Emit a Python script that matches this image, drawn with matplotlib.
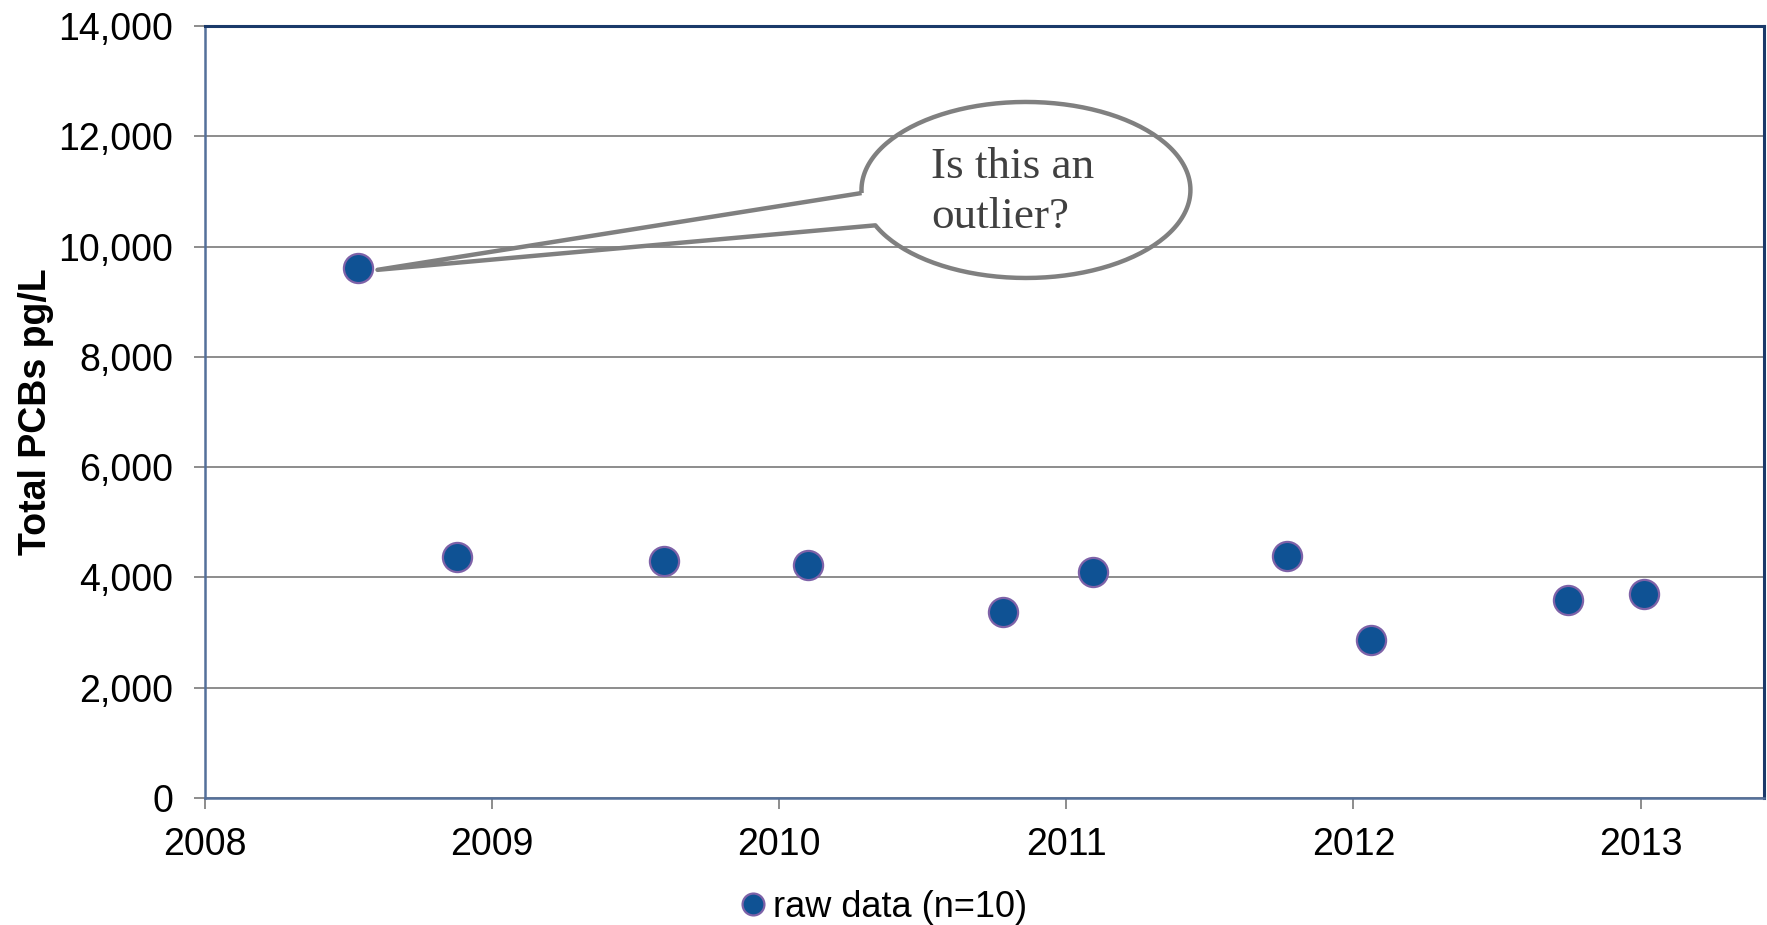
import matplotlib
matplotlib.use("Agg")
import matplotlib.pyplot as plt
import numpy as np
from matplotlib.path import Path
from matplotlib.patches import PathPatch
from matplotlib.ticker import FuncFormatter

# data: sampling date (decimal year) and total PCBs (pg/L)
dates = [2008.533, 2008.877, 2009.598, 2010.100, 2010.778,
         2011.092, 2011.767, 2012.062, 2012.746, 2013.011]
pcbs = [9620, 4370, 4300, 4225, 3370, 4090, 4395, 2865, 3590, 3700]
year_ticks = [2008, 2009, 2010, 2011, 2012, 2013]
y_ticks = [0, 2000, 4000, 6000, 8000, 10000, 12000, 14000]
series_label = "raw data (n=10)"
callout_text = "Is this an\noutlier?"

plt.rcParams["font.family"] = ["Liberation Sans", "DejaVu Sans"]

fig = plt.figure(figsize=(17.67, 9.25), dpi=100)
ax = fig.add_axes([0.116, 0.1373, 0.8823, 0.8346])

ax.plot(dates, pcbs, linestyle="none", marker="o", markersize=21,
        markerfacecolor="#0F5294", markeredgecolor="#7E62A8",
        markeredgewidth=1.6, label=series_label, zorder=3)

ax.set_xlim(2008, 2013.43)
ax.set_ylim(0, 14000)
ax.set_xticks(year_ticks)
ax.set_xticklabels([str(y) for y in year_ticks])
ax.set_yticks(y_ticks)
ax.yaxis.set_major_formatter(FuncFormatter(lambda v, p: f"{int(v):,}"))
ax.grid(axis="y", color="#8C8C8C", linewidth=1.4)
ax.set_axisbelow(True)

ax.tick_params(axis="both", labelsize=27, color="#8C8C8C", width=1.4, length=8)
ax.tick_params(axis="y", pad=15)
ax.tick_params(axis="x", pad=13)
for s in ["top", "right"]:
    ax.spines[s].set_color("#1A3A6A")
    ax.spines[s].set_linewidth(2.2)
for s in ["left", "bottom"]:
    ax.spines[s].set_color("#54709A")
    ax.spines[s].set_linewidth(1.8)

ax.set_ylabel("Total PCBs pg/L", fontsize=27, fontweight="bold", labelpad=3)

# speech-bubble callout pointing at the first (high) sample
tip = ax.transAxes.inverted().transform(ax.transData.transform((dates[0], pcbs[0])))
tip = (tip[0] + 0.0125, tip[1] - 0.003)
cx, cy, a, b = 0.5266, 0.7876, 0.1055, 0.114
t_low, t_up = np.deg2rad(203.7), np.deg2rad(182.0 + 360)
arc = np.linspace(t_low, t_up, 200)
verts = [(cx + a * np.cos(t_up), cy + b * np.sin(t_up)), tip,
         (cx + a * np.cos(t_low), cy + b * np.sin(t_low))]
verts += [(cx + a * np.cos(t), cy + b * np.sin(t)) for t in arc]
codes = [Path.MOVETO] + [Path.LINETO] * (len(verts) - 1)
bubble = PathPatch(Path(verts, codes), transform=ax.transAxes, facecolor="none",
                   edgecolor="#808080", linewidth=3.2, joinstyle="round", zorder=4)
ax.add_patch(bubble)
ax.text(0.466, 0.785, callout_text, transform=ax.transAxes, ha="left", va="center",
        fontsize=32.5, color="#404040", family=["Liberation Serif", "DejaVu Serif"],
        linespacing=1.35, zorder=5)

fig.legend(loc="center", bbox_to_anchor=(0.499, 0.019), frameon=False, fontsize=26,
           markerscale=0.75, handlelength=0.9, handletextpad=0.1, borderpad=0)

fig.savefig("out.png", dpi=100)
